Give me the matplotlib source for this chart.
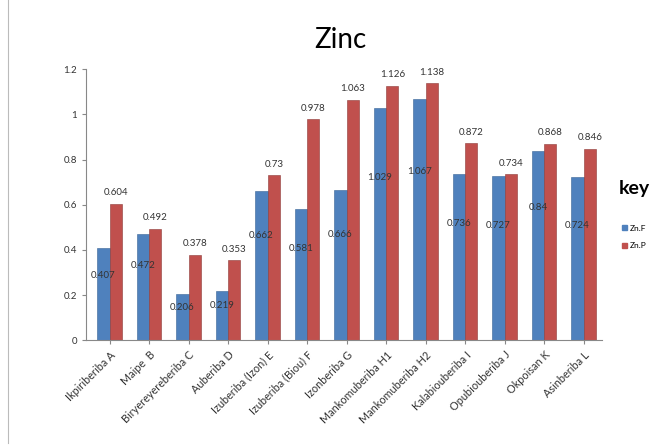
import numpy as np
import matplotlib.pyplot as plt
from matplotlib.patches import Patch

plt.rcParams['font.family'] = ['Lato', 'DejaVu Sans']

sites = ["Ikpiriberiba A", "Maipe  B", "Biryereyereberiba C", "Auberiba D",
         "Izuberiba (Izon) E", "Izuberiba (Biou) F", "Izonberiba G",
         "Mankomuberiba H1", "Mankomuberiba H2", "Kalabiouberiba I",
         "Opubiouberiba J", "Okpoisan K", "Asinberiba L"]
zn_f = [0.407, 0.472, 0.206, 0.219, 0.662, 0.581, 0.666, 1.029, 1.067, 0.736, 0.727, 0.84, 0.724]
zn_p = [0.604, 0.492, 0.378, 0.353, 0.73, 0.978, 1.063, 1.126, 1.138, 0.872, 0.734, 0.868, 0.846]

blue = '#4F81BD'
red = '#C0504D'

fig = plt.figure(figsize=(6.61, 4.47), dpi=100)
ax = fig.add_axes([0.13, 0.239, 0.78, 0.606])

x = np.arange(len(sites))
w = 0.31
ax.bar(x - w/2, zn_f, w, color=blue, edgecolor='#3A6596', linewidth=0.4, label='Zn.F')
ax.bar(x + w/2, zn_p, w, color=red, edgecolor='#8E3A38', linewidth=0.4, label='Zn.P')

# Excel-style labels: Zn.F inside the bar, Zn.P above it
for i in range(len(sites)):
    ax.text(x[i] - w/2, zn_f[i]*0.7, str(zn_f[i]), ha='center', va='center',
            fontsize=7, color='#333333')
    ax.text(x[i] + w/2, zn_p[i] + 0.03, str(zn_p[i]), ha='center', va='bottom',
            fontsize=7, color='#333333')

ax.set_xlim(-0.6, 12.45)
ax.set_ylim(0, 1.2)
ax.set_yticks(np.arange(0, 1.21, 0.2))
ax.set_yticklabels(['0', '0.2', '0.4', '0.6', '0.8', '1', '1.2'])
ax.set_xticks(x)
ax.set_xticklabels(sites, rotation=45, ha='right', rotation_mode='anchor',
                   fontsize=7.8, color='#333333')
ax.tick_params(axis='y', labelsize=7, length=3, color='#888888', labelcolor='#333333')
ax.tick_params(axis='x', length=3, color='#888888')
for s in ['top', 'right']:
    ax.spines[s].set_visible(False)
for s in ['left', 'bottom']:
    ax.spines[s].set_color('#888888')

fig.text(0.515, 0.91, 'Zinc', ha='center', va='center', fontsize=20)

handles = [Patch(color=blue, label='Zn.F'), Patch(color=red, label='Zn.P')]
leg = fig.legend(handles=handles, title='key', loc='center left',
                 bbox_to_anchor=(0.925, 0.52), frameon=False, fontsize=6,
                 handlelength=0.6, handleheight=0.6, handletextpad=0.4,
                 labelspacing=1.3)
leg.get_title().set_fontsize(14)
leg.get_title().set_fontweight('bold')
leg._legend_box.sep = 20

fig.add_artist(plt.Line2D([0.012, 0.012], [0.01, 1.0], color='#bbbbbb', linewidth=0.8))

fig.savefig('out.png', dpi=100)
